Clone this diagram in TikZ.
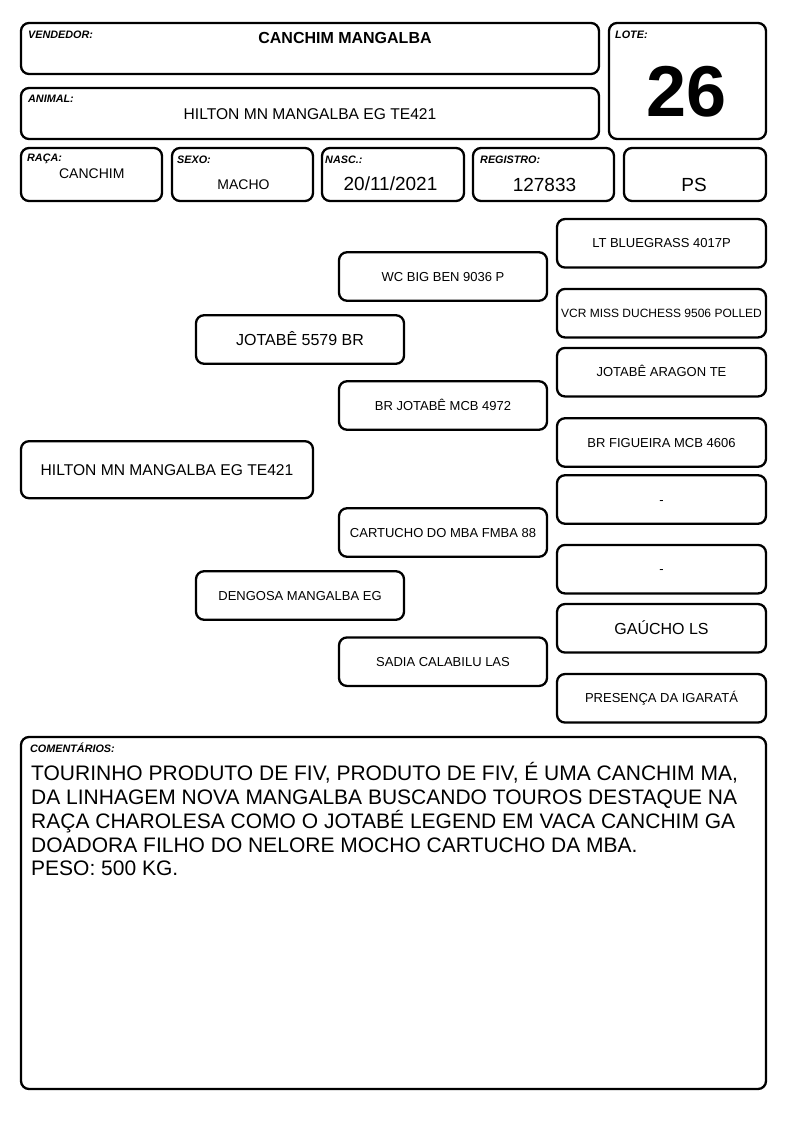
\documentclass[tikz,border=0pt]{standalone}
\usepackage{fontspec}
\setmainfont{Liberation Sans}
\newcommand\fsz[1]{\fontsize{#1}{#1}\selectfont}
\begin{document}
\begin{tikzpicture}[x=1pt,y=-1pt,
  frame/.style={draw, line width=2.3pt, rounded corners=8pt, inner sep=0pt},
  ped/.style={frame, minimum width=208pt, minimum height=48.5pt,
    text height=9.3pt, text depth=0pt, font=\fsz{13}},
  pedbig/.style={ped, text height=11.5pt, font=\fsz{16}},
  pedsmall/.style={ped, text height=8.6pt, font=\fsz{12}},
  lbl/.style={anchor=base west, inner sep=0pt, font=\fsz{10.8}\bfseries\itshape},
  val/.style={anchor=base, inner sep=0pt},
  com/.style={anchor=base west, inner sep=0pt, font=\fsz{21}}]
\useasboundingbox (0,0) rectangle (794,1123);
% header boxes
\node[frame, minimum width=578pt, minimum height=51pt] (vend) at (310,48.5) {};
\node[frame, minimum width=578pt, minimum height=51pt] (anim) at (310,113.5) {};
\node[frame, minimum width=157pt, minimum height=116pt] (lote) at (687.5,81) {};
\node[frame, minimum width=141pt, minimum height=53pt] (raca) at (91.5,174.5) {};
\node[frame, minimum width=141pt, minimum height=53pt] (sexo) at (242.5,174.5) {};
\node[frame, minimum width=142pt, minimum height=53pt] (nasc) at (393,174.5) {};
\node[frame, minimum width=141pt, minimum height=53pt] (reg) at (543.5,174.5) {};
\node[frame, minimum width=142pt, minimum height=53pt] (ps) at (695,174.5) {};
\node[frame, minimum width=745pt, minimum height=352pt] (coment) at (393.5,913) {};
% labels
\node[lbl] (lvend) at (28,39) {VENDEDOR:};
\node[lbl] (lanim) at (28,103) {ANIMAL:};
\node[lbl] (llote) at (615,38.3) {LOTE:};
\node[lbl] (lraca) at (27,161.7) {RAÇA:};
\node[lbl] (lsexo) at (177,164) {SEXO:};
\node[lbl] (lnasc) at (325,164) {NASC.:};
\node[lbl] (lreg) at (480,164) {REGISTRO:};
\node[lbl] (lcom) at (30,752.5) {COMENTÁRIOS:};
% values
\node[val, font=\fsz{16}\bfseries] (tvend) at (345,44) {CANCHIM MANGALBA};
\node[val, font=\fsz{15.6}] (tanim) at (310,119.3) {HILTON MN MANGALBA EG TE421};
\node[val, font=\fsz{72}\bfseries] (tlote) at (687,116.7) {26};
\node[val, font=\fsz{14}] (traca) at (91.8,178.3) {CANCHIM};
\node[val, font=\fsz{14}] (tsexo) at (243.5,190) {MACHO};
\node[val, font=\fsz{19}] (tnasc) at (390.5,190.7) {20/11/2021};
\node[val, font=\fsz{19}] (treg) at (544.5,191.7) {127833};
\node[val, font=\fsz{19}] (tps) at (694,191.7) {PS};
% pedigree
\node[ped, minimum width=292pt, minimum height=57pt, text height=11.2pt, font=\fsz{15.6}] (p0) at (167,469.7) {HILTON MN MANGALBA EG TE421};
\node[pedbig] (p1) at (300,339.5) {JOTABÊ 5579 BR};
\node[ped] (p2) at (300,595.5) {DENGOSA MANGALBA EG};
\node[ped] (p3) at (443,276.5) {WC BIG BEN 9036 P};
\node[ped] (p4) at (443,405.5) {BR JOTABÊ MCB 4972};
\node[ped] (p5) at (443,532.5) {CARTUCHO DO MBA FMBA 88};
\node[ped] (p6) at (443,661.7) {SADIA CALABILU LAS};
\node[ped, minimum width=209pt] (p7) at (661.5,243.3) {LT BLUEGRASS 4017P};
\node[pedsmall, minimum width=209pt] (p8) at (661.5,313.2) {VCR MISS DUCHESS 9506 POLLED};
\node[ped, minimum width=209pt] (p9) at (661.5,372.2) {JOTABÊ ARAGON TE};
\node[ped, minimum width=209pt] (p10) at (661.5,442.5) {BR FIGUEIRA MCB 4606};
\node[ped, minimum width=209pt] (p11) at (661.5,499.5) {-};
\node[ped, minimum width=209pt] (p12) at (661.5,569.2) {-};
\node[pedbig, minimum width=209pt] (p13) at (661.5,628.3) {GAÚCHO LS};
\node[ped, minimum width=209pt] (p14) at (661.5,698.3) {PRESENÇA DA IGARATÁ};
% comments
\node[com] (c1) at (31,780.7) {TOURINHO PRODUTO DE FIV, PRODUTO DE FIV, É UMA CANCHIM MA,};
\node[com] (c2) at (31,804) {DA LINHAGEM NOVA MANGALBA BUSCANDO TOUROS DESTAQUE NA};
\node[com] (c3) at (31,828) {RAÇA CHAROLESA COMO O JOTABÉ LEGEND EM VACA CANCHIM GA};
\node[com] (c4) at (31,852) {DOADORA FILHO DO NELORE MOCHO CARTUCHO DA MBA.};
\node[com] (c5) at (31,875.5) {PESO: 500 KG.};
\end{tikzpicture}
\end{document}
